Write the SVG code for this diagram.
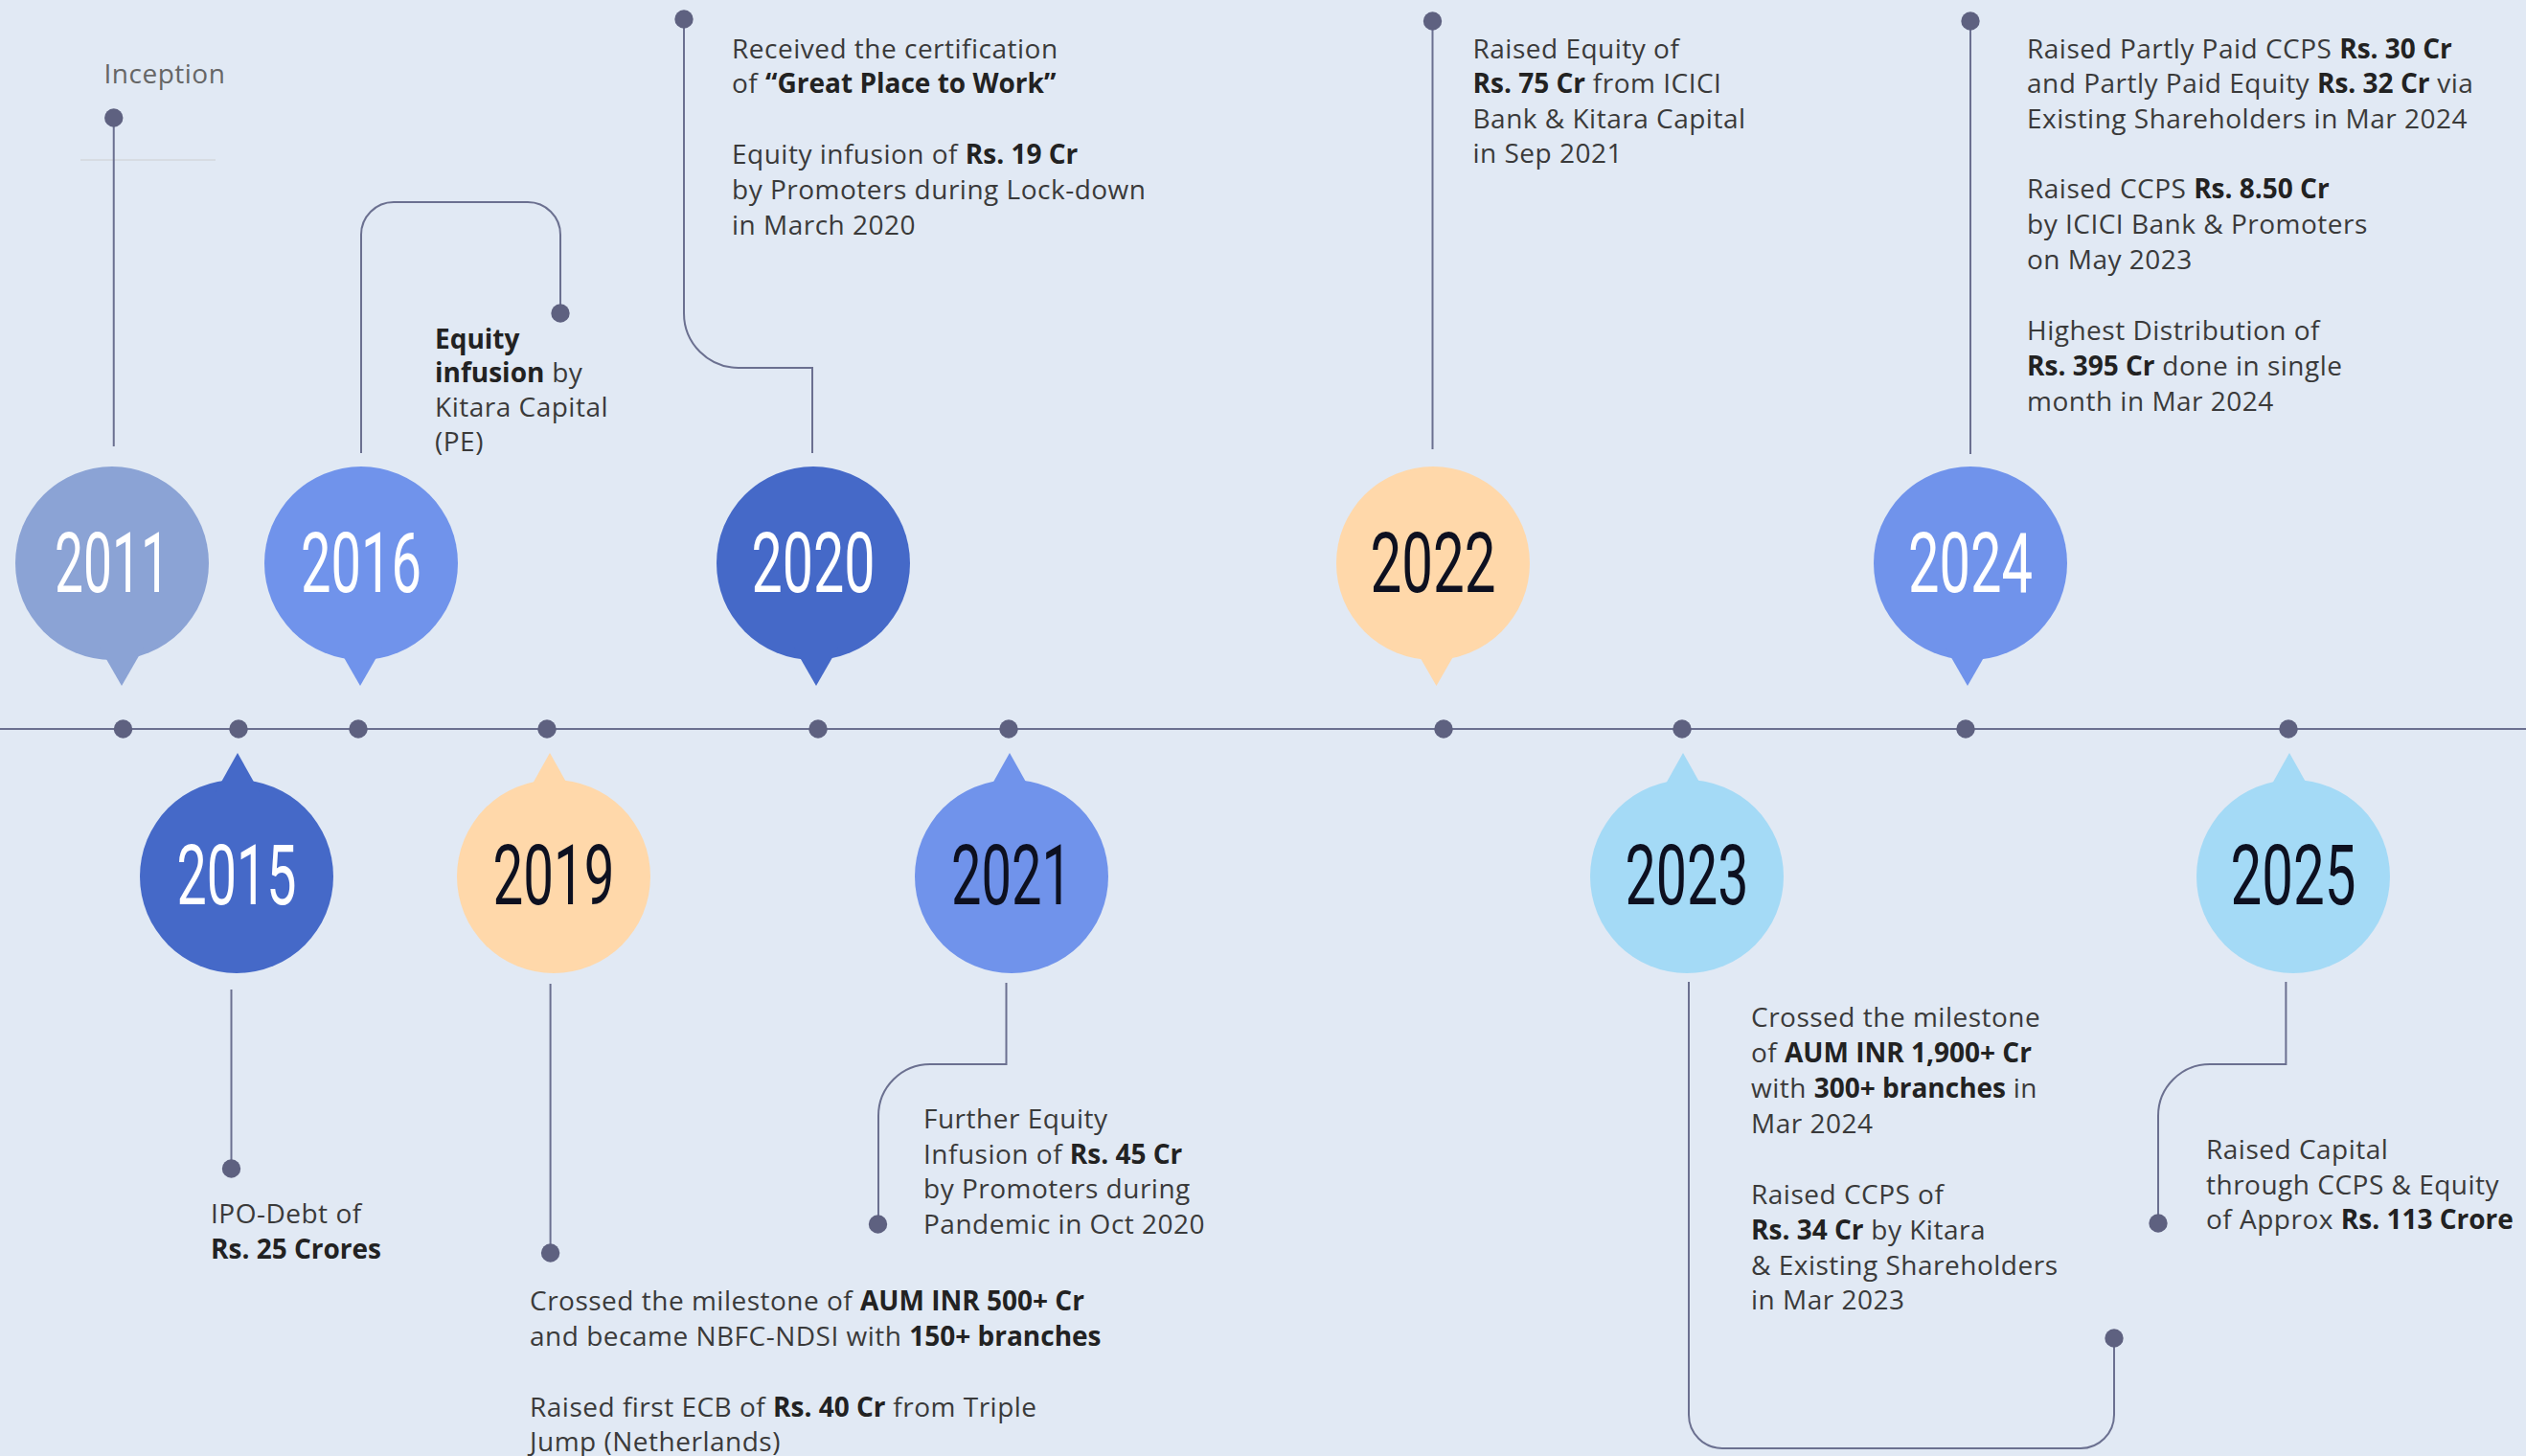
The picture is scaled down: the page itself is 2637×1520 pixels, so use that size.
<svg xmlns="http://www.w3.org/2000/svg" width="2637" height="1520" viewBox="0 0 2637 1520">
<style>
.t{font-family:"Open Sans","Liberation Sans",sans-serif;font-size:28px;letter-spacing:0.5px;fill:#3a3a3a}
.b{font-weight:700;fill:#222;letter-spacing:0}
.yr{font-family:Roboto,"Liberation Sans",sans-serif;font-size:88px;text-anchor:middle;letter-spacing:0}
.w{fill:#ffffff}
.k{fill:#0d1020}
.ln{fill:none;stroke:#6b7090;stroke-width:2}
.dot{fill:#5e6180}
.c1{fill:#8BA3D5}.c2{fill:#7093EB}.c3{fill:#4569C8}.c4{fill:#FFD8AA}.c5{fill:#A4DAF6}
</style>
<rect width="2637" height="1520" fill="#E1E9F4"/>
<g id="connectors">
<path class="ln" d="M0 761 H2637" stroke="#5b5f7a"/>
<path d="M84 167 H225" stroke="#d3d7dc" stroke-width="1.5" fill="none"/>
<path class="ln" d="M118.75 123 V466"/>
<path class="ln" d="M377 473 V245 A34 34 0 0 1 411 211 H551 A34 34 0 0 1 585 245 V327"/>
<path class="ln" d="M848 473 V384 H771 A57 57 0 0 1 714 327 V20"/>
<path class="ln" d="M1495.5 22 V469"/>
<path class="ln" d="M2057 22 V474"/>
<path class="ln" d="M241.5 1033 V1220"/>
<path class="ln" d="M574.6 1027 V1308"/>
<path class="ln" d="M1050.5 1026 V1111 H971 A54 54 0 0 0 917 1165 V1278"/>
<path class="ln" d="M1763 1025 V1477 A35 35 0 0 0 1798 1512 H2172 A35 35 0 0 0 2207 1477 V1397"/>
<path class="ln" d="M2386.4 1025 V1111 H2307 A54 54 0 0 0 2253 1165 V1277"/>
<g class="dot">
<circle cx="128.5" cy="761" r="9.7"/><circle cx="249" cy="761" r="9.7"/><circle cx="374" cy="761" r="9.7"/><circle cx="571" cy="761" r="9.7"/><circle cx="854" cy="761" r="9.7"/><circle cx="1053" cy="761" r="9.7"/><circle cx="1507" cy="761" r="9.7"/><circle cx="1756" cy="761" r="9.7"/><circle cx="2052" cy="761" r="9.7"/><circle cx="2389" cy="761" r="9.7"/>
<circle cx="118.75" cy="123" r="9.7"/><circle cx="585" cy="327" r="9.7"/><circle cx="714" cy="20" r="9.7"/><circle cx="1495.5" cy="22" r="9.7"/><circle cx="2057" cy="22" r="9.7"/>
<circle cx="241.5" cy="1220" r="9.7"/><circle cx="574.6" cy="1308" r="9.7"/><circle cx="916.5" cy="1278" r="9.7"/><circle cx="2207" cy="1397" r="9.7"/><circle cx="2253" cy="1277" r="9.7"/>
</g>
</g>
<g id="y2011">
<circle class="c1" cx="117" cy="588" r="101"/><path class="c1" d="M104 676 L150 676 L127 716 Z"/>
<text class="yr w" x="117" y="618" textLength="120" lengthAdjust="spacingAndGlyphs">2011</text>
<text class="t" x="108.5" y="87" style="fill:#666">Inception</text>
</g>
<g id="y2016">
<circle class="c2" cx="377" cy="588" r="101"/><path class="c2" d="M353 676 L399 676 L376 716 Z"/>
<text class="yr w" x="377" y="618" textLength="126" lengthAdjust="spacingAndGlyphs">2016</text>
<text class="t" x="454" y="363.5"><tspan class="b">Equity</tspan></text>
<text class="t" x="454" y="399"><tspan class="b">infusion</tspan> by</text>
<text class="t" x="454" y="435">Kitara Capital</text>
<text class="t" x="454" y="471">(PE)</text>
</g>
<g id="y2020">
<circle class="c3" cx="849" cy="588" r="101"/><path class="c3" d="M829 676 L875 676 L852 716 Z"/>
<text class="yr w" x="849" y="618" textLength="129" lengthAdjust="spacingAndGlyphs">2020</text>
<text class="t" x="764" y="60.6">Received the certification</text>
<text class="t" x="764" y="97">of <tspan class="b">“Great Place to Work”</tspan></text>
<text class="t" x="764" y="171">Equity infusion of <tspan class="b">Rs. 19 Cr</tspan></text>
<text class="t" x="764" y="208">by Promoters during Lock-down</text>
<text class="t" x="764" y="244.5">in March 2020</text>
</g>
<g id="y2022">
<circle class="c4" cx="1496" cy="588" r="101"/><path class="c4" d="M1476.5 676 L1522.5 676 L1499.5 716 Z"/>
<text class="yr k" x="1496" y="618" textLength="131" lengthAdjust="spacingAndGlyphs">2022</text>
<text class="t" x="1537.5" y="60.6">Raised Equity of</text>
<text class="t" x="1537.5" y="97"><tspan class="b">Rs. 75 Cr</tspan> from ICICI</text>
<text class="t" x="1537.5" y="133.5">Bank &amp; Kitara Capital</text>
<text class="t" x="1537.5" y="170">in Sep 2021</text>
</g>
<g id="y2024">
<circle class="c2" cx="2057" cy="588" r="101"/><path class="c2" d="M2031 676 L2077 676 L2054 716 Z"/>
<text class="yr w" x="2057" y="618" textLength="130" lengthAdjust="spacingAndGlyphs">2024</text>
<text class="t" x="2116" y="60.6">Raised Partly Paid CCPS <tspan class="b">Rs. 30 Cr</tspan></text>
<text class="t" x="2116" y="97">and Partly Paid Equity <tspan class="b">Rs. 32 Cr</tspan> via</text>
<text class="t" x="2116" y="133.5">Existing Shareholders in Mar 2024</text>
<text class="t" x="2116" y="207">Raised CCPS <tspan class="b">Rs. 8.50 Cr</tspan></text>
<text class="t" x="2116" y="244">by ICICI Bank &amp; Promoters</text>
<text class="t" x="2116" y="281">on May 2023</text>
<text class="t" x="2116" y="355">Highest Distribution of</text>
<text class="t" x="2116" y="392"><tspan class="b">Rs. 395 Cr</tspan> done in single</text>
<text class="t" x="2116" y="428.5">month in Mar 2024</text>
</g>
<g id="y2015">
<circle class="c3" cx="247" cy="915" r="101"/><path class="c3" d="M225 827 L271 827 L248 786 Z"/>
<text class="yr w" x="247" y="944" textLength="125" lengthAdjust="spacingAndGlyphs">2015</text>
<text class="t" x="220" y="1277">IPO-Debt of</text>
<text class="t" x="220" y="1313.6"><tspan class="b">Rs. 25 Crores</tspan></text>
</g>
<g id="y2019">
<circle class="c4" cx="578" cy="915" r="101"/><path class="c4" d="M551 827 L597 827 L574 786 Z"/>
<text class="yr k" x="578" y="944" textLength="127" lengthAdjust="spacingAndGlyphs">2019</text>
<text class="t" x="553" y="1368">Crossed the milestone of <tspan class="b">AUM INR 500+ Cr</tspan></text>
<text class="t" x="553" y="1404.7">and became NBFC-NDSI with <tspan class="b">150+ branches</tspan></text>
<text class="t" x="553" y="1479">Raised first ECB of <tspan class="b">Rs. 40 Cr</tspan> from Triple</text>
<text class="t" x="553" y="1515">Jump (Netherlands)</text>
</g>
<g id="y2021">
<circle class="c2" cx="1056" cy="915" r="101"/><path class="c2" d="M1031 827 L1077 827 L1054 786 Z"/>
<text class="yr k" x="1056" y="944" textLength="126" lengthAdjust="spacingAndGlyphs">2021</text>
<text class="t" x="964" y="1178">Further Equity</text>
<text class="t" x="964" y="1215">Infusion of <tspan class="b">Rs. 45 Cr</tspan></text>
<text class="t" x="964" y="1251">by Promoters during</text>
<text class="t" x="964" y="1287.5">Pandemic in Oct 2020</text>
</g>
<g id="y2023">
<circle class="c5" cx="1761" cy="915" r="101"/><path class="c5" d="M1734 827 L1780 827 L1757 786 Z"/>
<text class="yr k" x="1761" y="944" textLength="129" lengthAdjust="spacingAndGlyphs">2023</text>
<text class="t" x="1828" y="1072">Crossed the milestone</text>
<text class="t" x="1828" y="1109">of <tspan class="b">AUM INR 1,900+ Cr</tspan></text>
<text class="t" x="1828" y="1145.5">with <tspan class="b">300+ branches</tspan> in</text>
<text class="t" x="1828" y="1183">Mar 2024</text>
<text class="t" x="1828" y="1257.4">Raised CCPS of</text>
<text class="t" x="1828" y="1294"><tspan class="b">Rs. 34 Cr</tspan> by Kitara</text>
<text class="t" x="1828" y="1330.7">&amp; Existing Shareholders</text>
<text class="t" x="1828" y="1367">in Mar 2023</text>
</g>
<g id="y2025">
<circle class="c5" cx="2394" cy="915" r="101"/><path class="c5" d="M2367 827 L2413 827 L2390 786 Z"/>
<text class="yr k" x="2394" y="944" textLength="131" lengthAdjust="spacingAndGlyphs">2025</text>
<text class="t" x="2303" y="1210">Raised Capital</text>
<text class="t" x="2303" y="1246.6">through CCPS &amp; Equity</text>
<text class="t" x="2303" y="1282.5">of Approx <tspan class="b">Rs. 113 Crore</tspan></text>
</g>
</svg>
